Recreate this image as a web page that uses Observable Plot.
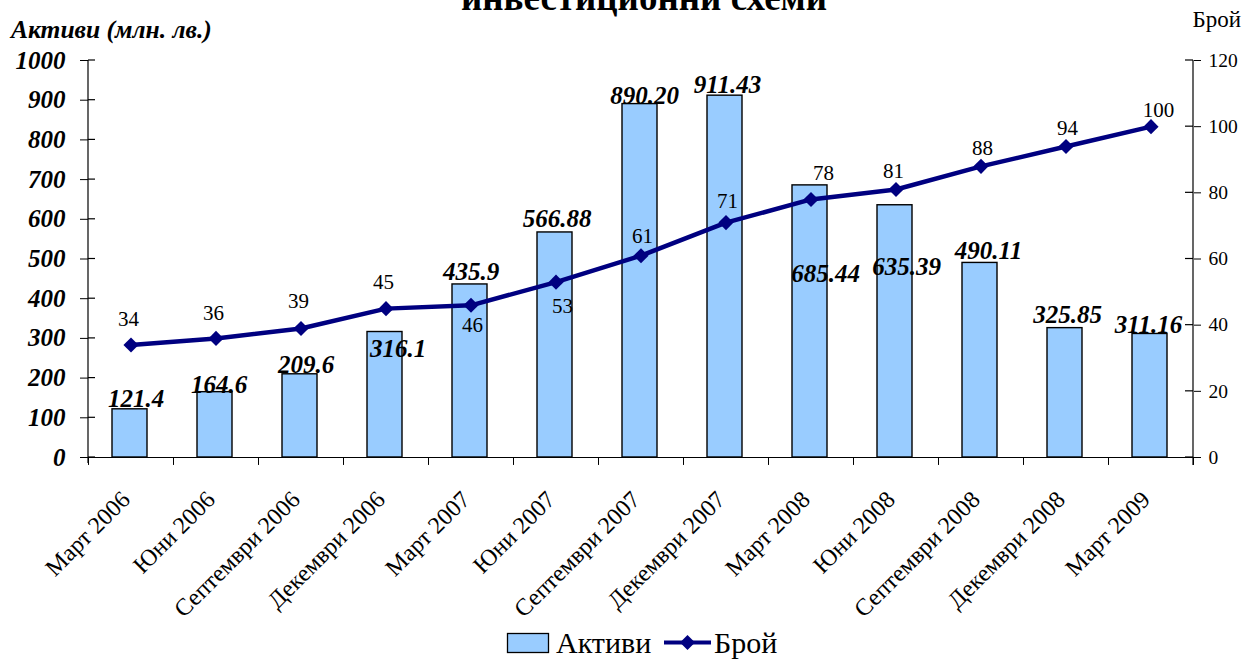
<!DOCTYPE html>
<html>
<head>
<meta charset="utf-8">
<script src="https://cdn.jsdelivr.net/npm/d3@7"></script>
<script src="https://cdn.jsdelivr.net/npm/@observablehq/plot@0.6"></script>
<style>
  html, body { margin: 0; padding: 0; background: #fff; }
  body { width: 1242px; height: 660px; position: relative; overflow: hidden; font-family: "Liberation Serif", serif; }
  #chart { position: absolute; left: 0; top: 0; }
  #legend { position: absolute; left: 0; top: 620px; }
</style>
</head>
<body>
<div id="chart"></div>
<svg id="legend" width="1242" height="40" font-family="Liberation Serif" font-size="30">
  <rect x="507.5" y="13.5" width="41" height="19" fill="#99CCFF" stroke="#000" stroke-width="1.3"/>
  <text x="556" y="33" text-anchor="start">Активи</text>
  <line x1="664" x2="711" y1="22.5" y2="22.5" stroke="#000080" stroke-width="4"/>
  <path d="M687.5,15L695,22.5L687.5,30L680,22.5Z" fill="#000080"/>
  <text x="714" y="33" text-anchor="start">Брой</text>
</svg>
<script>
// ---- data ----
const categories = ["Март 2006","Юни 2006","Септември 2006","Декември 2006","Март 2007","Юни 2007","Септември 2007","Декември 2007","Март 2008","Юни 2008","Септември 2008","Декември 2008","Март 2009"];
const assets = [121.4, 164.6, 209.6, 316.1, 435.9, 566.88, 890.20, 911.43, 685.44, 635.39, 490.11, 325.85, 311.16];
const assetLabels = ["121.4","164.6","209.6","316.1","435.9","566.88","890.20","911.43","685.44","635.39","490.11","325.85","311.16"];
const counts = [34, 36, 39, 45, 46, 53, 61, 71, 78, 81, 88, 94, 100];
const leftTicks = [0, 100, 200, 300, 400, 500, 600, 700, 800, 900, 1000];
const rightTicks = [0, 20, 40, 60, 80, 100, 120];
const titleText = "инвестиционни схеми";
const leftTitle = "Активи (млн. лв.)";
const rightTitle = "Брой";

// ---- layout config (label nudges, px) ----
const assetDx = [5, 3, 5, 12, 0, 1, 3.5, 1.5, 14.5, 10.5, 7.5, 1.5, -2.5];
const assetDy = [-2, 1, -1, 25, -4, -5, 0, -3, 97, 70, -4, -5, -1];
const countDx = [-2.5, -2.5, -2.5, -2.5, 1.5, 6.5, 1.5, 1.5, 12.5, -2.5, 1.5, 1.5, 7.5];
const countDy = [-19.5, -18, -20, -20, 27, 31, -13, -15, -19, -12, -11, -12, -10];

const k = 1000 / 120; // right-axis units -> left-axis units
const table = categories.map((c, i) => ({c, a: assets[i], al: assetLabels[i], n: counts[i], i}));

const blue = "#000080";
const serif = "Liberation Serif";

const marks = [
  Plot.barY(table, {x: "c", y: "a", fill: "#99CCFF", stroke: "#000", strokeWidth: 1.4, insetLeft: 24, insetRight: 26}),
  Plot.ruleY([0], {stroke: "#000", strokeWidth: 1.2}),
  // category boundary ticks below the x axis
  Plot.ruleX(table, {x: "c", dx: -42.5, y1: 0, y2: -20, stroke: "#000", strokeWidth: 1}),
  Plot.ruleX([categories[categories.length - 1]], {x: d => d, dx: 42.5, y1: 0, y2: -20, stroke: "#000", strokeWidth: 1}),
  Plot.lineY(table, {x: "c", y: d => d.n * k, stroke: blue, strokeWidth: 4.5}),
  Plot.dot(table, {x: "c", y: d => d.n * k, symbol: "diamond2", r: 6.8, fill: blue, stroke: "none"}),
  Plot.text(table, {x: "c", y: d => d.n * k, text: d => String(d.n), fontSize: 21, lineAnchor: "bottom", fill: "#000"}),
  Plot.text(table, {x: "c", y: "a", text: "al", fontSize: 25, fontWeight: "bold", fontStyle: "italic", lineAnchor: "bottom", fill: "#000"}),
  Plot.axisY({anchor: "left", ticks: leftTicks, tickFormat: d => String(d), tickSize: 8, tickPadding: 15, fontSize: 25, fontWeight: "bold", fontStyle: "italic", label: null}),
  Plot.axisY({anchor: "right", ticks: rightTicks.map(v => v * k), tickFormat: d => String(Math.round(d / k)), tickSize: 7, tickPadding: 8, fontSize: 19.5, label: null}),
  Plot.axisX({tickRotate: -45, tickSize: 0, tickPadding: 38, dx: -5, fontSize: 24, label: null})
];

const chart = Plot.plot({
  width: 1242,
  height: 610,
  marginLeft: 88,
  marginRight: 49,
  marginTop: 60,
  marginBottom: 153,
  x: {domain: categories, padding: 0},
  y: {domain: [0, 1000]},
  style: {fontFamily: serif, color: "#000", background: "transparent", overflow: "visible"},
  marks
});

const svg = d3.select(chart);
const xs = chart.scale("x"), ys = chart.scale("y");

// per-label nudges
const textGroups = svg.selectAll("g[aria-label='text']").nodes();
d3.select(textGroups[0]).selectAll("text").each(function(_, j) {
  const t = d3.select(this);
  t.attr("transform", (t.attr("transform") || "") + ` translate(${countDx[j]},${countDy[j]})`);
});
d3.select(textGroups[1]).selectAll("text").each(function(_, j) {
  const t = d3.select(this);
  t.attr("transform", (t.attr("transform") || "") + ` translate(${assetDx[j]},${assetDy[j]})`);
});

// axis lines and inner tick halves
const x0 = xs.range[0], x1 = xs.range[1];
const yTop = ys.apply(1000), yBot = ys.apply(0);
const g = svg.append("g").attr("stroke", "#000").attr("stroke-width", 1.2);
g.append("line").attr("x1", x0).attr("x2", x0).attr("y1", yTop).attr("y2", yBot + 6);
g.append("line").attr("x1", x1).attr("x2", x1).attr("y1", yTop).attr("y2", yBot + 8);
leftTicks.forEach(v => g.append("line").attr("x1", x0).attr("x2", x0 + 7).attr("y1", ys.apply(v)).attr("y2", ys.apply(v)));
rightTicks.forEach(v => g.append("line").attr("x1", x1 - 8).attr("x2", x1).attr("y1", ys.apply(v * k)).attr("y2", ys.apply(v * k)));

// titles
svg.append("text").attr("x", 644).attr("y", 10).attr("text-anchor", "middle")
  .attr("font-family", serif).attr("font-size", 37).attr("font-weight", "bold").text(titleText);
svg.append("text").attr("x", 11).attr("y", 38).attr("text-anchor", "start")
  .attr("font-family", serif).attr("font-size", 25.5).attr("font-weight", "bold").attr("font-style", "italic").text(leftTitle);
svg.append("text").attr("x", 1241).attr("y", 27).attr("text-anchor", "end")
  .attr("font-family", serif).attr("font-size", 23).text(rightTitle);

document.getElementById("chart").appendChild(chart);
</script>
</body>
</html>
